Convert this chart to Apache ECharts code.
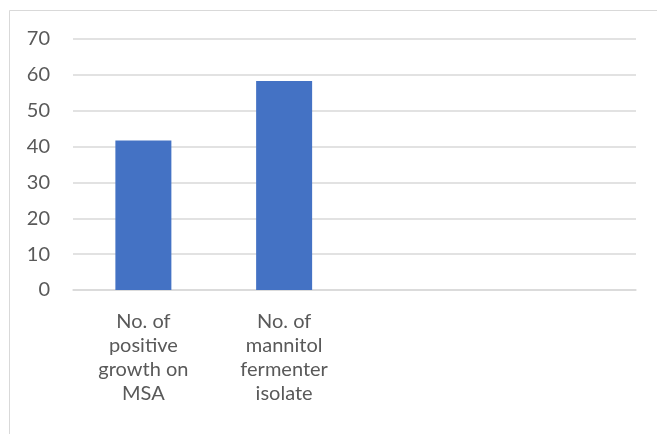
<!DOCTYPE html>
<html>
<head>
<meta charset="utf-8">
<script src="https://cdn.jsdelivr.net/npm/echarts@6/dist/echarts.min.js"></script>
<style>
  html, body { margin: 0; padding: 0; background: #fff; }
  #chart { width: 657px; height: 434px; }
</style>
</head>
<body>
<div id="chart"></div>
<script>
// categories (two trailing empty slots, as in the original sheet)
const categories = [
  'No. of\npositive\ngrowth on\nMSA',
  'No. of\nmannitol\nfermenter\nisolate',
  '',
  ''
]
const values = [41.7, 58.3, null, null]
const yTicks = { min: 0, max: 70, interval: 10 }

const textColor = '#595959'
const gridColor = '#d9d9d9'

let myChart = echarts.init(document.getElementById('chart'))
let option = {
  animation: false,
  backgroundColor: '#fff',
  textStyle: { fontFamily: 'Lato' },
  graphic: [
    {
      type: 'rect',
      shape: { x: 9.5, y: 10.5, width: 700, height: 500 },
      style: { fill: 'none', stroke: gridColor, lineWidth: 1 },
      silent: true
    }
  ],
  grid: {
    left: 73,
    right: 21,
    top: 39,
    bottom: 144,
    containLabel: false
  },
  xAxis: {
    type: 'category',
    data: categories,
    axisLine: { show: true, lineStyle: { color: gridColor, width: 1.5 } },
    axisTick: { show: false },
    axisLabel: {
      color: textColor,
      fontSize: 20,
      lineHeight: 24,
      margin: 20,
      interval: 0,
      align: 'center'
    }
  },
  yAxis: {
    type: 'value',
    min: yTicks.min,
    max: yTicks.max,
    interval: yTicks.interval,
    axisLine: { show: false },
    axisTick: { show: false },
    axisLabel: { color: textColor, fontSize: 20, margin: 23 },
    splitLine: { lineStyle: { color: gridColor, width: 1.5 } }
  },
  series: [
    {
      type: 'bar',
      data: values,
      barWidth: 56,
      itemStyle: { color: '#4472c4' }
    }
  ]
}
myChart.setOption(option)
</script>
</body>
</html>
